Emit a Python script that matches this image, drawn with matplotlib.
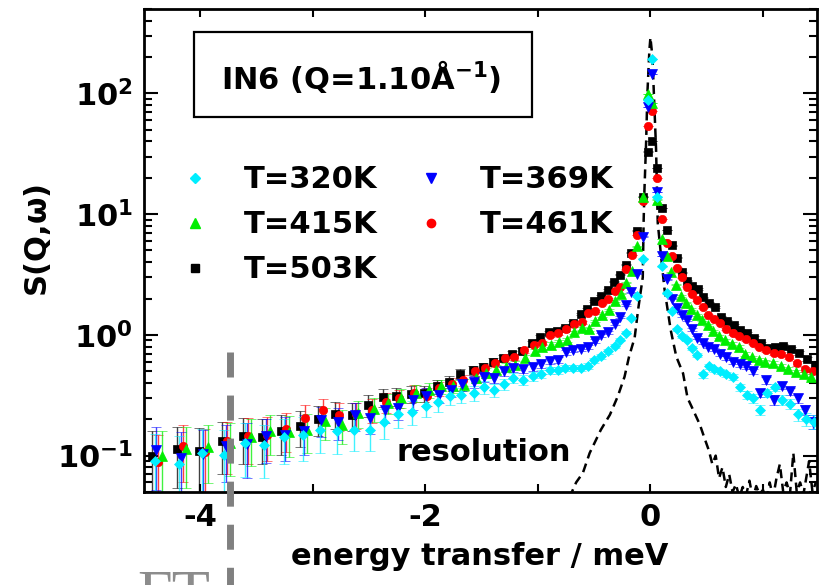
import matplotlib
matplotlib.use("Agg")
import matplotlib.pyplot as plt
from matplotlib.lines import Line2D
from matplotlib.patches import Rectangle
from matplotlib.colors import to_rgba
from matplotlib.ticker import FixedLocator, FixedFormatter, LogLocator, NullFormatter

plt.rcParams['font.family'] = 'DejaVu Sans'
plt.rcParams['font.weight'] = 'bold'
plt.rcParams['mathtext.fontset'] = 'dejavusans'

# energy transfer (meV), shared binning of all temperatures
energy = [-4.43, -4.21, -4.01, -3.81, -3.62, -3.45, -3.28, -3.11, -2.95, -2.80,
          -2.65, -2.51, -2.38, -2.26, -2.13, -2.01, -1.90, -1.79, -1.69, -1.58,
          -1.49, -1.40, -1.31, -1.23, -1.14, -1.05, -0.98, -0.90, -0.83, -0.76,
          -0.69, -0.62, -0.56, -0.50, -0.44, -0.38, -0.32, -0.27, -0.22, -0.17,
          -0.12, -0.07, -0.024, 0.015, 0.06, 0.105, 0.15, 0.19, 0.235, 0.28,
          0.325, 0.37, 0.42, 0.47, 0.52, 0.57, 0.625, 0.68, 0.74, 0.80,
          0.86, 0.92, 0.98, 1.04, 1.11, 1.18, 1.25, 1.32, 1.39, 1.46]

s_503 = [0.100, 0.114, 0.110, 0.131, 0.145, 0.143, 0.159, 0.175, 0.202, 0.221,
         0.216, 0.261, 0.304, 0.310, 0.326, 0.330, 0.374, 0.407, 0.476, 0.509,
         0.539, 0.598, 0.645, 0.696, 0.740, 0.850, 0.960, 1.05, 1.08, 1.15,
         1.26, 1.50, 1.65, 1.90, 2.10, 2.35, 2.75, 3.15, 3.80, 4.80,
         7.30, 14.0, 33.0, 40.0, 24.0, 11.3, 7.40, 5.50, 4.35, 3.30,
         2.80, 2.55, 2.40, 2.05, 1.85, 1.70, 1.42, 1.30, 1.20, 1.10,
         1.04, 0.95, 0.85, 0.78, 0.80, 0.81, 0.77, 0.71, 0.63, 0.56]

s_461 = [0.088, 0.120, 0.107, 0.131, 0.146, 0.149, 0.166, 0.205, 0.240, 0.215,
         0.220, 0.240, 0.280, 0.300, 0.330, 0.310, 0.360, 0.390, 0.420, 0.500,
         0.530, 0.580, 0.640, 0.660, 0.750, 0.830, 0.860, 1.00, 1.04, 1.11,
         1.22, 1.27, 1.52, 1.57, 1.84, 1.99, 2.30, 2.50, 3.50, 4.60,
         6.70, 12.9, 54.0, 71.0, 20.0, 9.10, 5.80, 4.50, 3.60, 3.00,
         2.50, 2.20, 1.95, 1.70, 1.45, 1.35, 1.25, 1.12, 1.03, 0.98,
         0.92, 0.86, 0.80, 0.75, 0.71, 0.70, 0.66, 0.58, 0.52, 0.50]

s_415 = [0.099, 0.114, 0.119, 0.128, 0.142, 0.159, 0.156, 0.164, 0.192, 0.181,
         0.226, 0.244, 0.273, 0.301, 0.331, 0.352, 0.375, 0.375, 0.387, 0.440,
         0.484, 0.516, 0.543, 0.567, 0.640, 0.730, 0.800, 0.830, 0.880, 0.900,
         1.05, 1.13, 1.11, 1.30, 1.45, 1.60, 1.90, 2.20, 2.70, 3.40,
         5.40, 13.9, 98.0, 84.0, 13.2, 6.20, 4.50, 3.30, 2.60, 2.10,
         1.85, 1.65, 1.45, 1.32, 1.20, 1.08, 0.97, 0.90, 0.84, 0.80,
         0.70, 0.65, 0.62, 0.60, 0.58, 0.55, 0.52, 0.49, 0.47, 0.45]

s_369 = [0.112, 0.096, 0.104, 0.120, 0.125, 0.145, 0.149, 0.159, 0.199, 0.190,
         0.216, 0.205, 0.240, 0.250, 0.290, 0.310, 0.320, 0.350, 0.390, 0.410,
         0.450, 0.440, 0.500, 0.530, 0.520, 0.540, 0.570, 0.610, 0.620, 0.720,
         0.755, 0.770, 0.800, 0.885, 1.00, 1.05, 1.24, 1.41, 1.76, 2.25,
         3.20, 6.50, 77.0, 145.0, 15.3, 4.50, 2.90, 2.00, 1.67, 1.45,
         1.32, 1.11, 0.95, 0.86, 0.80, 0.76, 0.69, 0.65, 0.60, 0.57,
         0.55, 0.50, 0.33, 0.42, 0.29, 0.38, 0.34, 0.30, 0.24, 0.19]

s_320 = [0.090, 0.085, 0.105, 0.102, 0.127, 0.123, 0.143, 0.149, 0.162, 0.160,
         0.164, 0.164, 0.190, 0.220, 0.230, 0.260, 0.280, 0.310, 0.320, 0.330,
         0.370, 0.350, 0.390, 0.440, 0.427, 0.454, 0.478, 0.509, 0.509, 0.533,
         0.533, 0.533, 0.549, 0.617, 0.665, 0.731, 0.815, 0.914, 1.04, 1.38,
         2.09, 4.27, 89.0, 194.0, 14.0, 3.70, 2.22, 1.57, 1.11, 0.98,
         0.91, 0.78, 0.68, 0.47, 0.55, 0.52, 0.50, 0.47, 0.45, 0.37,
         0.32, 0.30, 0.24, 0.33, 0.37, 0.29, 0.27, 0.22, 0.20, 0.19]

err = [0.060, 0.060, 0.060, 0.060, 0.060, 0.058, 0.058, 0.058, 0.056, 0.056,
       0.055, 0.054, 0.053, 0.052, 0.051, 0.050, 0.048, 0.046, 0.045, 0.044,
       0.043, 0.042, 0.041, 0.040, 0.039, 0.038, 0.037, 0.036, 0.035, 0.034,
       0.033, 0.032, 0.032, 0.031, 0.031, 0.030, 0.030, 0.030, 0.030, 0.030,
       0.030, 0.030, 0.030, 0.030, 0.030, 0.030, 0.030, 0.030, 0.030, 0.030,
       0.028, 0.028, 0.027, 0.027, 0.026, 0.026, 0.025, 0.025, 0.025, 0.025,
       0.025, 0.025, 0.025, 0.025, 0.025, 0.025, 0.025, 0.025, 0.025, 0.025]

# instrumental resolution (dashed curve)
res_e = [-0.72, -0.66, -0.60, -0.54, -0.44, -0.36, -0.29, -0.23, -0.19, -0.14,
         -0.11, -0.089, -0.068, -0.06, -0.053, -0.038, -0.027, -0.009, 0.0, 0.018,
         0.04, 0.05, 0.065, 0.10, 0.125, 0.18, 0.23, 0.29, 0.33, 0.37,
         0.44, 0.48, 0.52, 0.55, 0.58, 0.61, 0.64, 0.67, 0.70, 0.73,
         0.76, 0.79, 0.82, 0.85, 0.88, 0.91, 0.94, 0.97, 1.00, 1.03,
         1.06, 1.09, 1.12, 1.15, 1.18, 1.21, 1.24, 1.27, 1.30, 1.33,
         1.36, 1.39, 1.41, 1.44, 1.47]
res_s = [0.045, 0.060, 0.072, 0.105, 0.164, 0.218, 0.31, 0.45, 0.66, 0.95,
         1.6, 2.2, 3.0, 9.0, 16.0, 40.0, 100.0, 230.0, 290.0, 200.0,
         60.0, 35.0, 8.5, 4.0, 2.4, 1.1, 0.66, 0.48, 0.30, 0.25,
         0.18, 0.14, 0.11, 0.085, 0.10, 0.065, 0.08, 0.055, 0.07, 0.05,
         0.058, 0.045, 0.055, 0.047, 0.062, 0.044, 0.056, 0.048, 0.052, 0.043,
         0.06, 0.045, 0.065, 0.085, 0.05, 0.06, 0.048, 0.105, 0.05, 0.06,
         0.048, 0.07, 0.09, 0.05, 0.06]

# label, values, marker, size, colour, small energy-calibration factor
series = [
    ('T=503K', s_503, 's', 5.5, '#000000', 1.000),
    ('T=461K', s_461, 'o', 6.0, '#ff0000', 0.987),
    ('T=415K', s_415, '^', 7.0, '#00ee00', 0.980),
    ('T=369K', s_369, 'v', 7.0, '#0000ff', 0.991),
    ('T=320K', s_320, 'D', 5.5, '#00eeff', 0.994),
]
legend_order = ['T=320K', 'T=415K', 'T=503K', 'T=369K', 'T=461K']

yticks = [0.1, 1, 10, 100]
yticklabels = [r'$\mathbf{10^{-1}}$', r'$\mathbf{10^{0}}$', r'$\mathbf{10^{1}}$', r'$\mathbf{10^{2}}$']
xticks = [-4, -2, 0]
xticklabels = ['-4', '-2', '0']

fig = plt.figure(figsize=(8.21, 5.85), dpi=100)
ax = fig.add_axes([0.1754, 0.159, 0.8197, 0.8256])

handles = {}
for label, vals, mk, ms, col, scale in series:
    e = [x * scale for x in energy]
    ax.errorbar(e, vals, yerr=err, fmt=mk, ms=ms, mfc=col, mec=col, mew=0.5,
                ecolor=to_rgba(col, 0.75), elinewidth=1.0, capsize=3.8, capthick=1.0)
    handles[label] = Line2D([], [], ls='none', marker=mk, ms=ms, mfc=col, mec=col)

ax.plot(res_e, res_s, color='black', lw=1.8, dashes=(3.6, 2.2), zorder=1.5)

ax.set_yscale('log')
ax.set_xlim(-4.5, 1.48)
ax.set_ylim(0.05, 500)

ax.yaxis.set_major_locator(FixedLocator(yticks))
ax.yaxis.set_major_formatter(FixedFormatter(yticklabels))
ax.yaxis.set_minor_locator(LogLocator(base=10, subs=range(2, 10)))
ax.yaxis.set_minor_formatter(NullFormatter())
ax.xaxis.set_major_locator(FixedLocator(xticks))
ax.xaxis.set_major_formatter(FixedFormatter(xticklabels))
ax.xaxis.set_minor_locator(FixedLocator([-3, -1, 1]))

ax.tick_params(which='both', direction='in', top=True, right=True, width=1.5, labelsize=22)
ax.tick_params(axis='y', which='major', length=10, pad=8)
ax.tick_params(axis='y', which='minor', length=5.5)
ax.tick_params(axis='x', which='both', length=6, pad=8)
for sp in ax.spines.values():
    sp.set_linewidth(2)

ax.set_xlabel('energy transfer / meV', fontsize=22, fontweight='bold')
ax.set_ylabel(r'S(Q,$\mathbf{\omega}$)', fontsize=22, fontweight='bold')
ax.xaxis.set_label_coords(0.499, -0.104)
ax.yaxis.set_label_coords(-0.135, 0.52)

# title box
ax.add_patch(Rectangle((0.0743, 0.7764), 0.5022, 0.176, transform=ax.transAxes,
                       fill=False, ec='black', lw=1.6, zorder=5))
ax.text(0.3224, 0.834, r'IN6 (Q=1.10Å$^{\mathbf{-1}}$)', transform=ax.transAxes,
        ha='center', va='baseline', fontsize=22, fontweight='bold', zorder=6)

ax.text(0.375, 0.065, 'resolution', transform=ax.transAxes, ha='left', va='baseline',
        fontsize=22, fontweight='bold')

ax.legend([handles[k] for k in legend_order], legend_order, ncol=2, loc='upper left',
          bbox_to_anchor=(0.053, 0.676), frameon=False, borderpad=0,
          borderaxespad=0, handlelength=1.0, handletextpad=1.1, columnspacing=1.25,
          labelspacing=0.52, prop={'weight': 'bold', 'size': 22})

# grey dashed marker line and clipped caption left from the original page
fig.add_artist(Line2D([230 / 821, 230 / 821], [(585 - 352) / 585, 0.0], transform=fig.transFigure,
                      color='#808080', lw=5, dashes=(3.6, 2.6), zorder=10))
fig.text(137 / 821, (585 - 614) / 585, 'FT', family='Liberation Serif', fontsize=45,
         color='#8c8c8c', va='baseline', ha='left', fontweight='normal')

fig.savefig('out.png', dpi=100)
